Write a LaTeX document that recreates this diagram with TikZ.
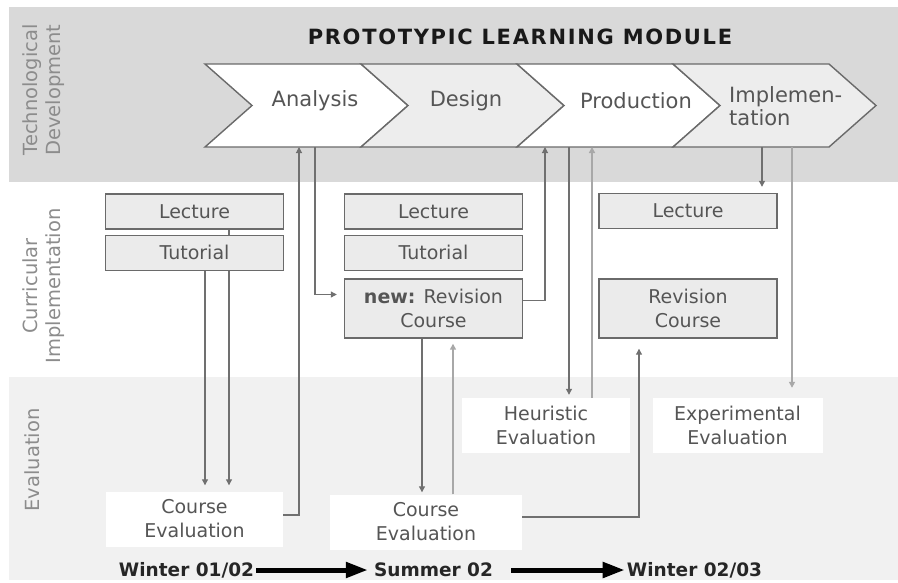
\documentclass[tikz,border=0pt]{standalone}
\usepackage{fontspec}
\setmainfont{DejaVu Sans}
\usetikzlibrary{arrows.meta,positioning,backgrounds}

\definecolor{bandtop}{HTML}{D9D9D9}
\definecolor{bandbot}{HTML}{F1F1F1}
\definecolor{boxfill}{HTML}{EBEBEB}
\definecolor{boxline}{HTML}{6A6A6A}
\definecolor{chevfill}{HTML}{EDEDED}
\definecolor{txtgray}{HTML}{555555}
\definecolor{lblgray}{HTML}{8C8C8C}
\definecolor{flowgray}{HTML}{707070}
\definecolor{flowlite}{HTML}{A8A8A8}

\tikzset{
  phase/.style={font=\fontsize{21}{23}\selectfont, text=txtgray, inner sep=0pt},
  chevron/.style={draw=boxline, line width=1.4pt, line join=miter},
  course/.style={draw=boxline, line width=1.4pt, fill=boxfill, inner sep=0pt,
    minimum width=178pt, minimum height=35pt, align=center,
    font=\fontsize{19}{24}\selectfont, text=txtgray},
  evalbox/.style={fill=white, inner sep=0pt, minimum width=170pt, minimum height=55pt,
    align=center, font=\fontsize{19}{24}\selectfont, text=txtgray},
  rowlabel/.style={rotate=90, align=center, font=\fontsize{19.5}{23}\selectfont, text=lblgray},
  flow/.style={draw=flowgray, line width=1.1pt, -{Triangle[length=6pt,width=6pt]}},
  flowlight/.style={flow, draw=flowlite, line width=2pt},
  term/.style={font=\bfseries\fontsize{18.5}{20}\selectfont, text=black!85, inner sep=2pt},
  timearrow/.style={line width=5pt, -{Triangle[length=22pt,width=15pt]}},
}

\begin{document}
\begin{tikzpicture}[x=1pt,y=-1pt]
    \useasboundingbox (0,0) rectangle (898,582);

    % Bands
    \begin{scope}[on background layer]
        \fill[bandtop] (9,7) rectangle (898,182);
        \fill[bandbot] (9,377) rectangle (898,580);
    \end{scope}

    % Row labels
    \node[rowlabel] (techlbl) at (44,90) {Technological\\Development};
    \node[rowlabel] (currlbl) at (44,286) {Curricular\\Implementation};
    \node[rowlabel] (evallbl) at (32,460) {Evaluation};

    % Title
    \node[font=\bfseries\fontsize{21}{24}\selectfont\addfontfeature{LetterSpace=8},
          text=black!90] (title) at (520,37) {PROTOTYPIC LEARNING MODULE};

    % Phases (chevrons)
    \draw[chevron, fill=white]
        (205,64) -- (361,64) -- (408,105.5) -- (361,147) -- (205,147) -- (252,105.5) -- cycle;
    \draw[chevron, fill=chevfill]
        (361,64) -- (517,64) -- (564,105.5) -- (517,147) -- (361,147) -- (408,105.5) -- cycle;
    \draw[chevron, fill=white]
        (517,64) -- (673,64) -- (720,105.5) -- (673,147) -- (517,147) -- (564,105.5) -- cycle;
    \draw[chevron, fill=chevfill]
        (673,64) -- (829,64) -- (876,105.5) -- (829,147) -- (673,147) -- (720,105.5) -- cycle;

    \node[phase] (ana) at (315,101) {Analysis};
    \node[phase] (des) at (466,101) {Design};
    \node[phase] (pro) at (636,101) {Production};
    \node[phase, align=left, anchor=west] (imp) at (729,106) {Implemen-\\tation};

    % Ports on the bottom edge of the phases
    \coordinate (anaIn) at (299,147);
    \coordinate (anaOut) at (315,147);
    \coordinate (desIn) at (545,147);
    \coordinate (proOut) at (569,147);
    \coordinate (proIn) at (592,147);
    \coordinate (impOut) at (762,147);
    \coordinate (impEval) at (792,147);

    % Curricular implementation
    \node[course] (lec1) at (194.5,211.5) {Lecture};
    \node[course, below=5pt of lec1] (tut1) {Tutorial};

    \node[course] (lec2) at (433.5,211.5) {Lecture};
    \node[course, below=5pt of lec2] (tut2) {Tutorial};
    \node[course, minimum height=59pt] (rev2) at (433.5,308.5)
        {\textbf{new:} Revision\\Course};

    \node[course] (lec3) at (688,211) {Lecture};
    \node[course, minimum height=59pt] (rev3) at (688,308.5) {Revision\\Course};

    % Evaluation
    \node[evalbox, minimum width=177pt] (ceval1) at (194.5,519) {Course\\Evaluation};
    \node[evalbox, minimum width=192pt] (ceval2) at (426,522) {Course\\Evaluation};
    \node[evalbox, minimum width=168pt] (heur) at (546,425.5) {Heuristic\\Evaluation};
    \node[evalbox] (expe) at (737.5,425.5) {Experimental\\Evaluation};

    % Flows, winter 01/02
    \begin{scope}[on background layer]
        \draw[flow, shorten >=6pt] ([xshift=34.5pt]lec1.south) -- ([xshift=34.5pt]lec1.south |- ceval1.north);
    \end{scope}
    \draw[flow, shorten >=6pt] ([xshift=10.5pt]tut1.south) -- ([xshift=10.5pt]tut1.south |- ceval1.north);
    \draw[flow] ([yshift=4pt]ceval1.east) -| (anaIn);
    \draw[flow, shorten >=7pt] (anaOut) |- ([yshift=14pt]rev2.west);

    % Flows, summer 02
    \draw[flow] ([yshift=8pt]rev2.east) -| (desIn);
    \draw[flow, shorten >=2pt] ([xshift=-11.5pt]rev2.south) -- ([xshift=-11.5pt]rev2.south |- ceval2.north);
    \draw[flowlight, shorten >=5pt] ([xshift=27pt]ceval2.north) -- ([xshift=19.5pt]rev2.south);
    \draw[flow, shorten >=3pt] (proOut) -- ([xshift=23pt]heur.north);
    \draw[flowlight] ([xshift=46pt]heur.north) -- (proIn);
    \draw[flow, shorten >=10pt] ([yshift=5pt]ceval2.east) -| ([xshift=-49pt]rev3.south);

    % Flows, winter 02/03
    \draw[flow, shorten >=6pt] (impOut) -- ([xshift=74pt]lec3.north);
    \draw[flowlight, shorten >=10pt] (impEval) -- ([xshift=54.5pt]expe.north);

    % Time line
    \node[term] (w1) at (186.5,570) {Winter 01/02};
    \node[term] (s2) at (433.5,570) {Summer 02};
    \node[term] (w2) at (694.5,570) {Winter 02/03};
    \draw[timearrow, shorten >=4pt] (w1) -- (s2);
    \draw[timearrow, shorten <=16pt] (s2) -- (w2);
\end{tikzpicture}
\end{document}
